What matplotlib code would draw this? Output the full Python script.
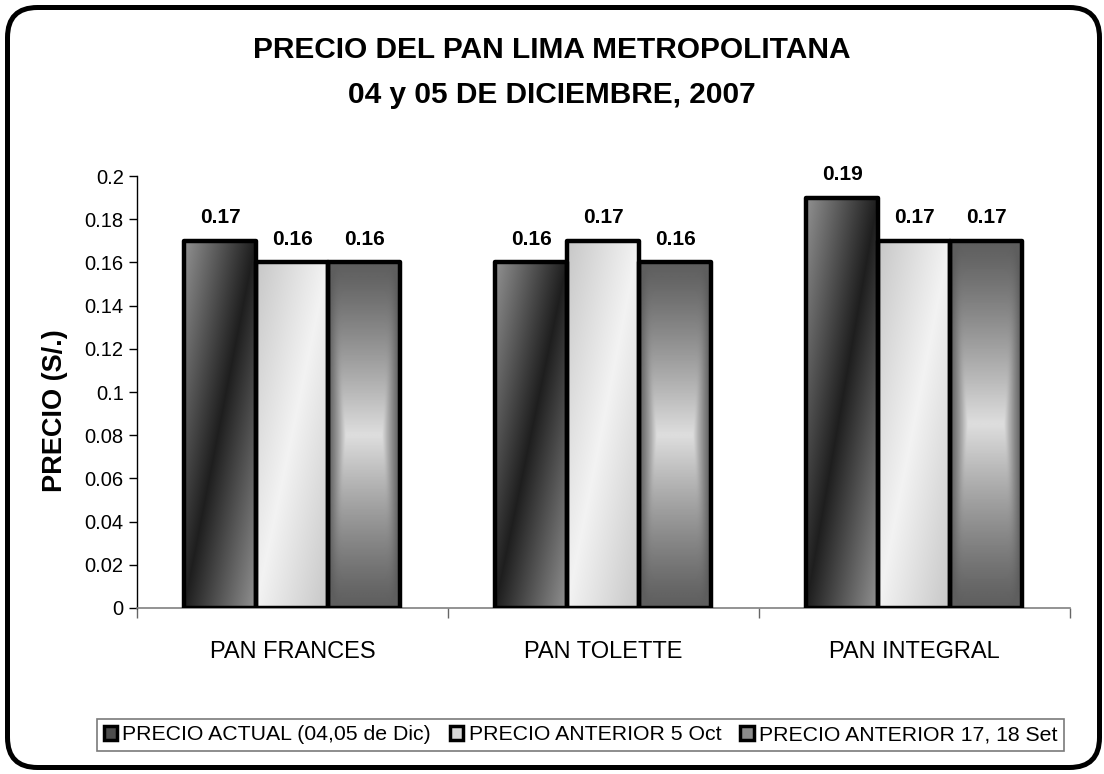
import numpy as np
import matplotlib.pyplot as plt
from matplotlib.patches import FancyBboxPatch, Patch

categories = ['PAN FRANCES', 'PAN TOLETTE', 'PAN INTEGRAL']
series_names = ['PRECIO ACTUAL (04,05 de Dic)', 'PRECIO ANTERIOR 5 Oct', 'PRECIO ANTERIOR 17, 18 Set']
precio_actual = [0.17, 0.16, 0.19]
precio_oct = [0.16, 0.17, 0.17]
precio_set = [0.16, 0.16, 0.17]
yticks = [0, 0.02, 0.04, 0.06, 0.08, 0.1, 0.12, 0.14, 0.16, 0.18, 0.2]

plt.rcParams['font.family'] = ['Liberation Sans', 'DejaVu Sans']

# gradient fills, imitating the old spreadsheet look
n = 200
gx, gy = np.meshgrid(np.linspace(0, 1, n), np.linspace(0, 1, n))
grad_dark = 0.12 + 0.45 * np.abs(gx - gy)
grad_light = 0.95 - 0.17 * np.abs(gx - gy)
dy = np.abs(2 * gy - 1)
dx = np.clip((np.abs(2 * gx - 1) - 0.5) / 0.5, 0, 1)
d = np.clip((dy ** 4 + dx ** 4) ** 0.25, 0, 1)
grad_mid = 0.37 + 0.5 * (1 - d) ** 1.2
grads = [grad_dark, grad_light, grad_mid]
legend_colors = ['0.3', '0.85', '0.55']

fig = plt.figure(figsize=(11.04, 7.74), dpi=100)
ax = fig.add_axes([0.124, 0.2145, 0.845, 0.558])

x = np.arange(len(categories))
w = 0.2315
series = [precio_actual, precio_oct, precio_set]
for i, vals in enumerate(series):
    bars = ax.bar(x + (i - 1) * w, vals, w, facecolor='none', edgecolor='black',
                  linewidth=3.2, joinstyle='round', zorder=3)
    for b, v in zip(bars, vals):
        im = ax.imshow(grads[i], cmap='gray', vmin=0, vmax=1, origin='lower',
                       extent=[b.get_x(), b.get_x() + b.get_width(), 0, v],
                       aspect='auto', zorder=2, interpolation='bilinear')
        im.set_clip_path(b)
        ax.annotate(f'{v:.2f}', (b.get_x() + b.get_width() / 2, v), xytext=(0, 10),
                    textcoords='offset points', ha='center', va='bottom',
                    fontsize=15, fontweight='bold')

ax.set_xlim(-0.5, 2.5)
ax.set_ylim(0, 0.2)
ax.set_yticks(yticks)
ax.set_yticklabels([f'{t:g}' for t in yticks], fontsize=14.5)
ax.tick_params(axis='y', direction='out', length=6, width=1)

ax.set_xticks([-0.5, 0.5, 1.5, 2.5])
ax.set_xticklabels([])
ax.set_xticks(x, minor=True)
ax.set_xticklabels(categories, minor=True, fontsize=17)
ax.tick_params(axis='x', which='major', direction='out', length=7, width=1, color='0.4')
ax.tick_params(axis='x', which='minor', length=0, pad=24)

for s in ['top', 'right']:
    ax.spines[s].set_visible(False)
ax.spines['bottom'].set_color('0.5')
ax.spines['bottom'].set_linewidth(1.2)
ax.spines['left'].set_linewidth(1)

ax.set_ylabel('PRECIO (S/.)', fontsize=19.5, fontweight='bold')
ax.yaxis.set_label_coords(-0.074, 0.458)

fig.text(0.5, 0.935, 'PRECIO DEL PAN LIMA METROPOLITANA', ha='center', va='center',
         fontsize=21.5, fontweight='bold')
fig.text(0.5, 0.877, '04 y 05 DE DICIEMBRE, 2007', ha='center', va='center',
         fontsize=21.5, fontweight='bold')

handles = [Patch(facecolor=c, edgecolor='black', linewidth=2.5) for c in legend_colors]
leg = fig.legend(handles, series_names, loc='center right', bbox_to_anchor=(0.9635, 0.0504),
                 ncol=3, fontsize=15.3, frameon=True, fancybox=False,
                 handlelength=0.62, handleheight=0.62, handletextpad=0.25,
                 columnspacing=0.9, borderpad=0.3, borderaxespad=0)
leg.get_frame().set_edgecolor('0.35')
leg.get_frame().set_linewidth(1.2)

border = FancyBboxPatch((0.075, 0.065), 10.92, 7.60, boxstyle='round,pad=0,rounding_size=0.3',
                        transform=fig.dpi_scale_trans, facecolor='none',
                        edgecolor='black', linewidth=3.6)
fig.patches.append(border)

fig.savefig('out.png', dpi=100)
